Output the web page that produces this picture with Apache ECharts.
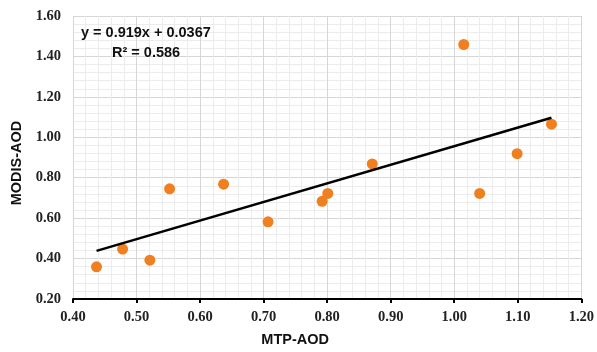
<!DOCTYPE html>
<html>
<head>
<meta charset="utf-8">
<script src="https://cdn.jsdelivr.net/npm/echarts@6/dist/echarts.min.js"></script>
<style>
  html, body { margin: 0; padding: 0; background: #fff; }
  #chart { width: 597px; height: 352px; }
</style>
</head>
<body>
<div id="chart"></div>
<script>
// MTP-AOD vs MODIS-AOD
var mtpAod   = [0.437, 0.478, 0.521, 0.552, 0.637, 0.707, 0.792, 0.801, 0.871, 1.015, 1.040, 1.099, 1.153];
var modisAod = [0.359, 0.447, 0.392, 0.745, 0.768, 0.582, 0.683, 0.722, 0.868, 1.459, 0.722, 0.919, 1.065];
var slope = 0.919;
var intercept = 0.0367;
var r2 = 0.586;

var points = mtpAod.map(function (x, i) { return [x, modisAod[i]]; });
var xMin = Math.min.apply(null, mtpAod);
var xMax = Math.max.apply(null, mtpAod);
var trend = [[xMin, slope * xMin + intercept], [xMax, slope * xMax + intercept]];

var tickFont = { fontFamily: 'Liberation Serif', fontWeight: 'bold', fontSize: 14.5, color: '#222' };
var nameFont = { fontFamily: 'Liberation Sans', fontWeight: 'bold', fontSize: 14.5, color: '#111' };

var chart = echarts.init(document.getElementById('chart'));
chart.setOption({
    animation: false,
    grid: { left: 73, right: 14, top: 16, bottom: 49 },
    xAxis: {
        type: 'value',
        min: 0.4, max: 1.2, interval: 0.1,
        name: 'MTP-AOD',
        nameLocation: 'middle',
        nameGap: 33,
        nameTextStyle: Object.assign({ padding: [0, 64, 0, 0] }, nameFont),
        axisLine: { show: true, lineStyle: { color: '#000', width: 2 } },
        axisTick: { show: true, inside: false, length: 4, lineStyle: { color: '#000', width: 2 } },
        axisLabel: Object.assign({ margin: 11, formatter: function (v) { return v.toFixed(2); } }, tickFont),
        splitLine: { show: true, lineStyle: { color: '#d6d6d6', width: 1 } },
        minorTick: { show: false, splitNumber: 5 },
        minorSplitLine: { show: true, lineStyle: { color: '#ececec', width: 1 } }
    },
    yAxis: {
        type: 'value',
        min: 0.2, max: 1.6, interval: 0.2,
        name: 'MODIS-AOD',
        nameLocation: 'middle',
        nameGap: 47,
        nameTextStyle: Object.assign({ padding: [0, 11, 0, 0] }, nameFont),
        axisLine: { show: false },
        axisTick: { show: false },
        axisLabel: Object.assign({ margin: 12, formatter: function (v) { return v.toFixed(2); } }, tickFont),
        splitLine: { show: true, lineStyle: { color: '#d6d6d6', width: 1 } },
        minorTick: { show: false, splitNumber: 5 },
        minorSplitLine: { show: true, lineStyle: { color: '#ececec', width: 1 } }
    },
    graphic: [
        { type: 'text', left: 81, top: 25, z: 100, style: { text: 'y = ' + slope + 'x + ' + intercept, font: 'bold 14.5px "Liberation Sans"', fill: '#111' } },
        { type: 'text', left: 112, top: 45, z: 100, style: { text: 'R\u00b2 = ' + r2, font: 'bold 14.5px "Liberation Sans"', fill: '#111' } }
    ],
    series: [
        {
            type: 'scatter',
            data: points,
            symbolSize: 11,
            itemStyle: { color: '#F07F1F', opacity: 1 },
            z: 2
        },
        {
            type: 'line',
            data: trend,
            symbol: 'none',
            lineStyle: { color: '#000', width: 2.5 },
            z: 3
        }
    ]
});
</script>
</body>
</html>
